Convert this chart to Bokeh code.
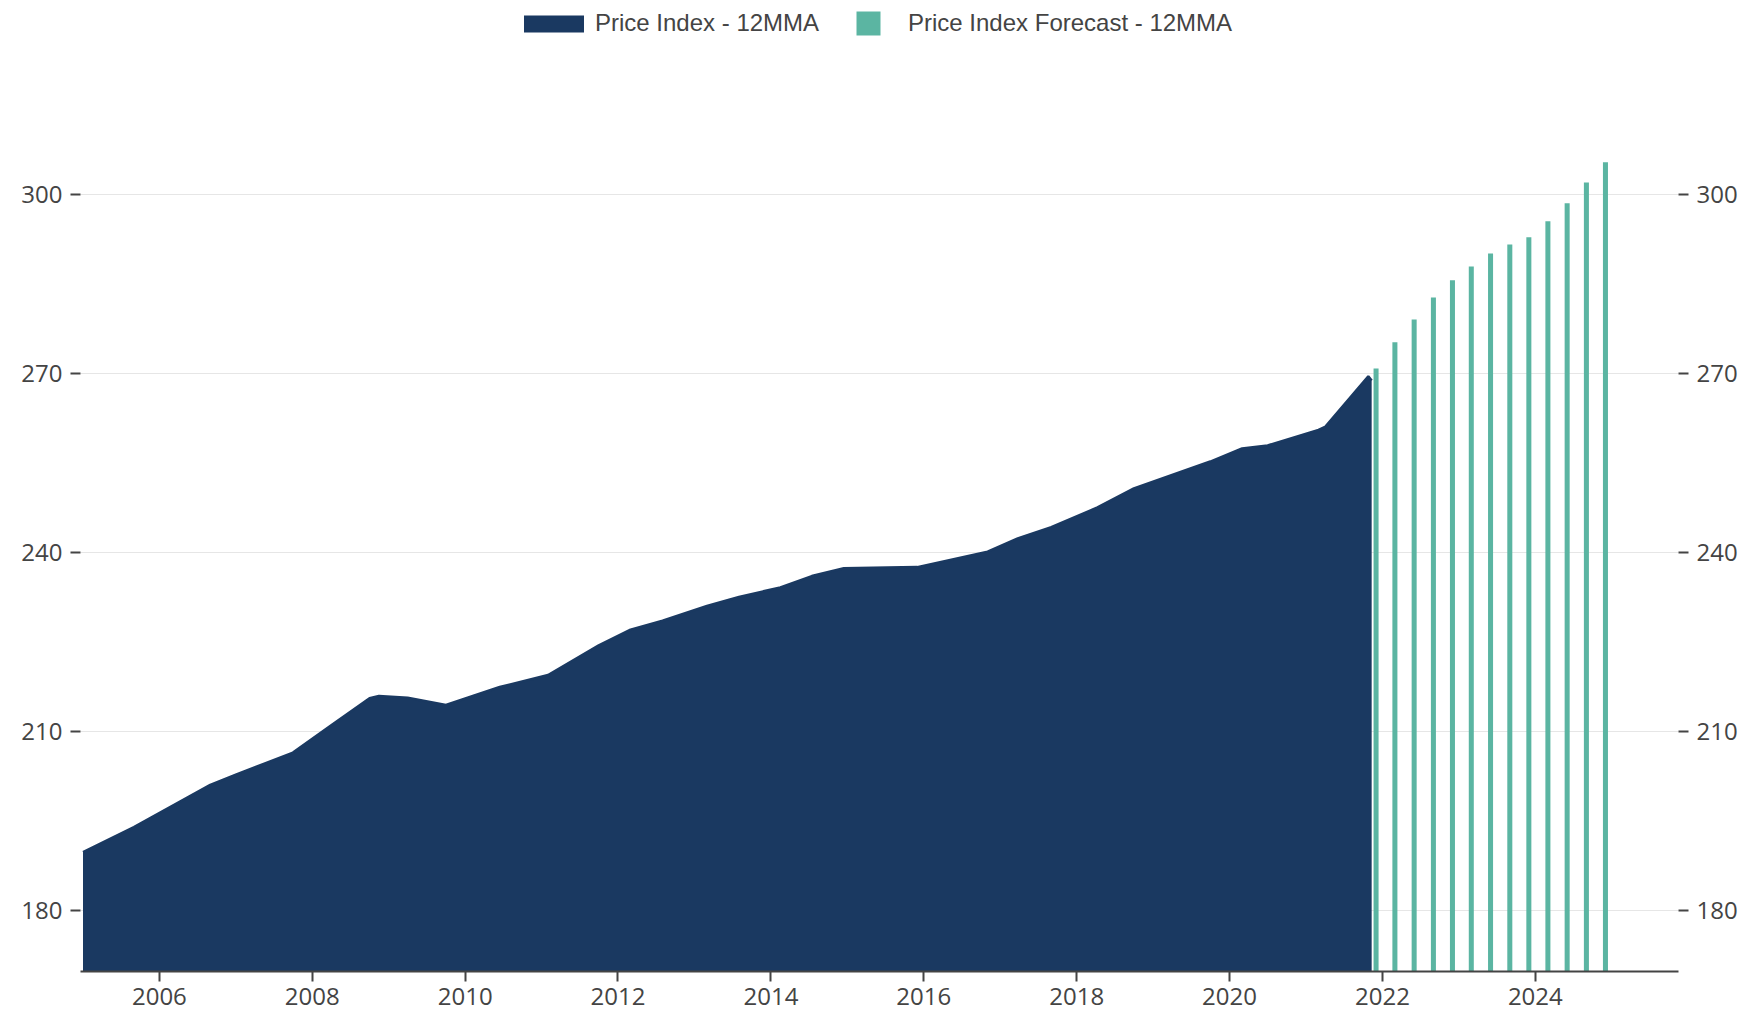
import pandas as pd
from bokeh.plotting import figure
from bokeh.models import (ColumnDataSource, Range1d, LinearAxis, FixedTicker,
                          DatetimeTickFormatter, Legend, LegendItem)
from bokeh.embed import file_html
from bokeh.resources import INLINE

# ---- data ----
hist_dates = ["2005-01-01", "2005-09-01", "2006-09-01", "2007-01-01", "2007-10-01",
              "2008-04-01", "2008-10-01", "2008-11-15", "2009-04-01", "2009-10-01",
              "2010-06-15", "2011-02-01", "2011-10-01", "2012-03-01", "2012-08-01",
              "2013-03-01", "2013-08-01", "2014-02-15", "2014-07-15", "2014-12-15",
              "2015-12-01", "2016-11-01", "2017-03-25", "2017-09-01", "2018-04-10",
              "2018-10-01", "2019-10-01", "2020-03-01", "2020-07-01", "2021-03-01",
              "2021-04-01", "2021-10-25", "2021-11-10"]
hist_values = [189.8, 194.0, 201.1, 202.8, 206.5,
               211.1, 215.6, 216.0, 215.7, 214.5,
               217.5, 219.5, 224.5, 227.1, 228.6,
               231.1, 232.6, 234.2, 236.1, 237.4,
               237.6, 240.2, 242.4, 244.3, 247.6,
               250.8, 255.3, 257.5, 258.0, 260.6,
               261.1, 269.6, 268.9]

fc_dates = ["2021-12-01", "2022-03-01", "2022-06-01", "2022-09-01", "2022-12-01",
            "2023-03-01", "2023-06-01", "2023-09-01", "2023-12-01", "2024-03-01",
            "2024-06-01", "2024-09-01", "2024-12-01"]
fc_values = [270.9, 275.3, 279.1, 282.8, 285.7, 288.0, 290.2, 291.7, 292.9,
             295.6, 298.6, 302.1, 305.5]

x_tick_years = [2006, 2008, 2010, 2012, 2014, 2016, 2018, 2020, 2022, 2024]
y_ticks = [180, 210, 240, 270, 300]

NAVY = "#1a3961"
TEAL = "#5bb5a2"
TXT = "#444444"

hist = ColumnDataSource(dict(date=pd.to_datetime(hist_dates), value=hist_values))
fc = ColumnDataSource(dict(date=pd.to_datetime(fc_dates), value=fc_values))

p = figure(width=1740, height=1020, x_axis_type="datetime",
           x_range=Range1d(pd.Timestamp("2004-12-20"), pd.Timestamp("2025-11-15")),
           y_range=Range1d(169.8, 332.6),
           min_border_left=80, min_border_right=62, min_border_top=0, min_border_bottom=49,
           outline_line_color=None, toolbar_location=None, output_backend="svg",
           background_fill_color="white", border_fill_color="white")

area_r = p.varea(x="date", y1=0, y2="value", source=hist, fill_color=NAVY)
p.line(x="date", y="value", source=hist, line_color=NAVY, line_width=2.5)
bar_r = p.vbar(x="date", top="value", bottom=0, width=24 * 86400000, source=fc,
               fill_color=TEAL, line_color=None)

# x axis
xa = p.xaxis[0]
xa.ticker = FixedTicker(ticks=[pd.Timestamp(f"{y}-01-01").value / 1e6 for y in x_tick_years])
xa.formatter = DatetimeTickFormatter(years="%Y", months="%Y", days="%Y")
xa.axis_line_color = TXT
xa.axis_line_width = 2
xa.major_tick_line_color = TXT
xa.major_tick_line_width = 2
xa.major_tick_out = 10
xa.major_tick_in = 0
xa.minor_tick_line_color = None
xa.major_label_text_font = "Open Sans"
xa.major_label_text_font_size = "24px"
xa.major_label_text_color = TXT
xa.major_label_standoff = 6

# y axes
def style_y(ax):
    ax.ticker = FixedTicker(ticks=y_ticks)
    ax.axis_line_color = None
    ax.major_tick_line_color = TXT
    ax.major_tick_line_width = 2
    ax.major_tick_out = 10
    ax.major_tick_in = 0
    ax.minor_tick_line_color = None
    ax.major_label_text_font = "Open Sans"
    ax.major_label_text_font_size = "24px"
    ax.major_label_text_color = TXT
    ax.major_label_standoff = 8

style_y(p.yaxis[0])
ra = LinearAxis()
style_y(ra)
p.add_layout(ra, "right")

p.xgrid.visible = False
p.ygrid.ticker = FixedTicker(ticks=y_ticks)
p.ygrid.grid_line_color = "#e6e6e6"
p.ygrid.grid_line_width = 1

def mk_legend(item, loc, gw, gh, standoff):
    lg = Legend(items=[item], location=loc, orientation="horizontal",
                glyph_width=gw, glyph_height=gh, label_standoff=standoff,
                padding=0, margin=0, spacing=0, border_line_color=None,
                background_fill_alpha=0,
                label_text_font="Liberation Sans", label_text_font_size="24px",
                label_text_color=TXT)
    return lg

p.add_layout(mk_legend(LegendItem(label="Price Index - 12MMA", renderers=[area_r]),
                       (436, 934), 75, 21, 4))
p.add_layout(mk_legend(LegendItem(label="Price Index Forecast - 12MMA", renderers=[bar_r]),
                       (773, 933), 30, 30, 25))

open("out.html", "w").write(file_html(p, INLINE))
